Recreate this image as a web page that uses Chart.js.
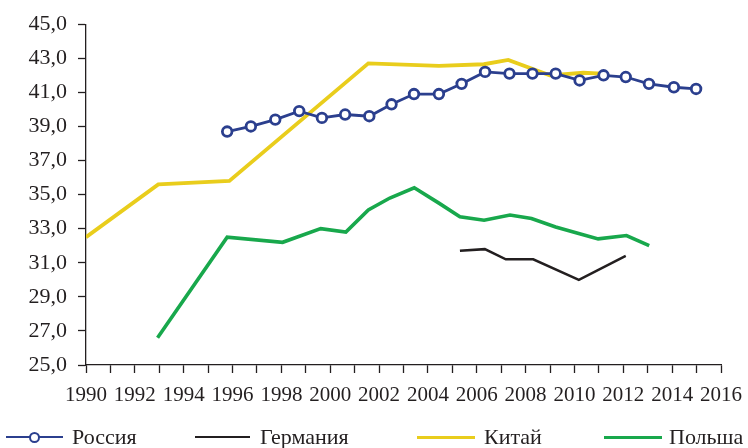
<!DOCTYPE html>
<html>
<head>
<meta charset="utf-8">
<script src="https://cdn.jsdelivr.net/npm/chart.js@4/dist/chart.umd.min.js"></script>
<style>
  html, body { margin: 0; padding: 0; background: #fff; overflow: hidden; }
  #wrap { position: relative; width: 748px; height: 448px; }
  #c { position: absolute; left: 0; top: 0; }
  .lg { position: absolute; top: 426px; height: 22px; font: 22px "Liberation Serif", "Times New Roman", serif; line-height: 22px; color: #231f20; white-space: nowrap; }
  .ln { position: absolute; height: 0; }
</style>
</head>
<body>
<div id="wrap">
  <canvas id="c" width="748" height="448"></canvas>
  <div id="legend"></div>
</div>
<script>
// ---- data ----
const xTickYears = [1990, 1992, 1994, 1996, 1998, 2000, 2002, 2004, 2006, 2008, 2010, 2012, 2014, 2016];
const yTickValues = [25, 27, 29, 31, 33, 35, 37, 39, 41, 43, 45];

const seriesNames = ['Россия', 'Германия', 'Китай', 'Польша'];

const russiaYears  = [1995.78, 1996.75, 1997.75, 1998.73, 1999.66, 2000.61, 2001.60, 2002.51, 2003.43, 2004.45, 2005.38, 2006.34, 2007.34, 2008.28, 2009.23, 2010.21, 2011.19, 2012.10, 2013.05, 2014.07, 2014.98];
const russiaValues = [38.7, 39.0, 39.4, 39.9, 39.5, 39.7, 39.6, 40.3, 40.9, 40.9, 41.5, 42.2, 42.1, 42.1, 42.1, 41.7, 42.0, 41.9, 41.5, 41.3, 41.2];

const germanyYears  = [2005.31, 2006.33, 2007.19, 2008.31, 2010.18, 2012.10];
const germanyValues = [31.7, 31.8, 31.2, 31.2, 30.0, 31.4];

const chinaYears  = [1990.0, 1992.96, 1995.87, 2001.56, 2004.45, 2006.29, 2007.29, 2008.99, 2010.36, 2011.11];
const chinaValues = [32.5, 35.6, 35.8, 42.7, 42.55, 42.65, 42.9, 42.0, 42.15, 42.1];

const polandYears  = [1992.93, 1995.78, 1998.05, 1999.61, 2000.64, 2001.56, 2002.44, 2003.44, 2004.45, 2005.31, 2006.30, 2007.36, 2008.24, 2009.23, 2010.21, 2010.97, 2012.13, 2013.06];
const polandValues = [26.6, 32.5, 32.2, 33.0, 32.8, 34.1, 34.8, 35.4, 34.5, 33.7, 33.5, 33.8, 33.6, 33.1, 32.7, 32.4, 32.6, 32.0];

// ---- styling ----
const INK = '#231f20';
const colors = { russia: '#2b3f8e', germany: '#231f20', china: '#e9cd1c', poland: '#18a84c' };
const FONT = '"Liberation Serif", "Times New Roman", serif';

const pts = (xs, ys) => xs.map((x, i) => ({ x: x, y: ys[i] }));

const ctx = document.getElementById('c').getContext('2d');
new Chart(ctx, {
  type: 'line',
  data: {
    datasets: [
      { label: seriesNames[2], data: pts(chinaYears, chinaValues), borderColor: colors.china, borderWidth: 3.8, pointRadius: 0, tension: 0, fill: false, order: 3 },
      { label: seriesNames[3], data: pts(polandYears, polandValues), borderColor: colors.poland, borderWidth: 3.6, pointRadius: 0, tension: 0, fill: false, order: 2 },
      { label: seriesNames[1], data: pts(germanyYears, germanyValues), borderColor: colors.germany, borderWidth: 2.5, pointRadius: 0, tension: 0, fill: false, order: 1 },
      { label: seriesNames[0], data: pts(russiaYears, russiaValues), borderColor: colors.russia, borderWidth: 2.8, pointRadius: 4.8, pointBorderWidth: 2.8, pointBackgroundColor: '#ffffff', pointBorderColor: colors.russia, tension: 0, fill: false, order: 0 }
    ]
  },
  options: {
    responsive: false,
    animation: false,
    devicePixelRatio: 1,
    layout: { padding: { left: 0, right: 27, top: 19, bottom: 0 } },
    plugins: { legend: { display: false }, tooltip: { enabled: false } },
    scales: {
      x: {
        type: 'linear',
        min: 1990, max: 2016,
        afterFit: s => { s.height = 83; s.paddingLeft = 0; s.paddingRight = 0; },
        ticks: {
          stepSize: 1, autoSkip: false, maxRotation: 0, minRotation: 0,
          color: INK, font: { family: FONT, size: 21 }, padding: 10,
          callback: v => xTickYears.includes(v) ? String(v) : ''
        },
        grid: { display: true, drawOnChartArea: false, drawTicks: true, tickLength: 8, tickColor: INK, tickWidth: 1.3 },
        border: { display: true, color: INK, width: 1.3 }
      },
      y: {
        min: 25, max: 45,
        afterFit: s => { s.width = 86; },
        afterBuildTicks: s => { s.ticks = yTickValues.map(v => ({ value: v })); },
        ticks: {
          color: INK, font: { family: FONT, size: 22 }, padding: 11,
          callback: v => v.toFixed(1).replace('.', ',')
        },
        grid: { display: true, drawOnChartArea: false, drawTicks: true, tickLength: 8, tickColor: INK, tickWidth: 1.3 },
        border: { display: true, color: INK, width: 1.3 }
      }
    }
  }
});

// ---- legend (HTML) ----
const legendItems = [
  { name: seriesNames[0], color: colors.russia, lineX: 6, lineW: 57, textX: 72, marker: true, lw: 2.8 },
  { name: seriesNames[1], color: colors.germany, lineX: 195, lineW: 55, textX: 260, marker: false, lw: 2.8 },
  { name: seriesNames[2], color: colors.china, lineX: 417, lineW: 58, textX: 484, marker: false, lw: 3.8 },
  { name: seriesNames[3], color: colors.poland, lineX: 604, lineW: 58, textX: 669, marker: false, lw: 3.6 }
];
const lg = document.getElementById('legend');
legendItems.forEach(it => {
  const line = document.createElement('div');
  line.className = 'ln';
  line.style.left = it.lineX + 'px';
  line.style.width = it.lineW + 'px';
  line.style.top = (437.5 - it.lw / 2) + 'px';
  line.style.borderTop = it.lw + 'px solid ' + it.color;
  lg.appendChild(line);
  if (it.marker) {
    const m = document.createElement('div');
    m.style.position = 'absolute';
    m.style.left = (it.lineX + it.lineW / 2 - 6) + 'px';
    m.style.top = (437.5 - 6) + 'px';
    m.style.width = '7px'; m.style.height = '7px';
    m.style.border = '2.6px solid ' + it.color;
    m.style.borderRadius = '50%';
    m.style.background = '#fff';
    lg.appendChild(m);
  }
  const t = document.createElement('div');
  t.className = 'lg';
  t.style.left = it.textX + 'px';
  t.textContent = it.name;
  lg.appendChild(t);
});
</script>
</body>
</html>
